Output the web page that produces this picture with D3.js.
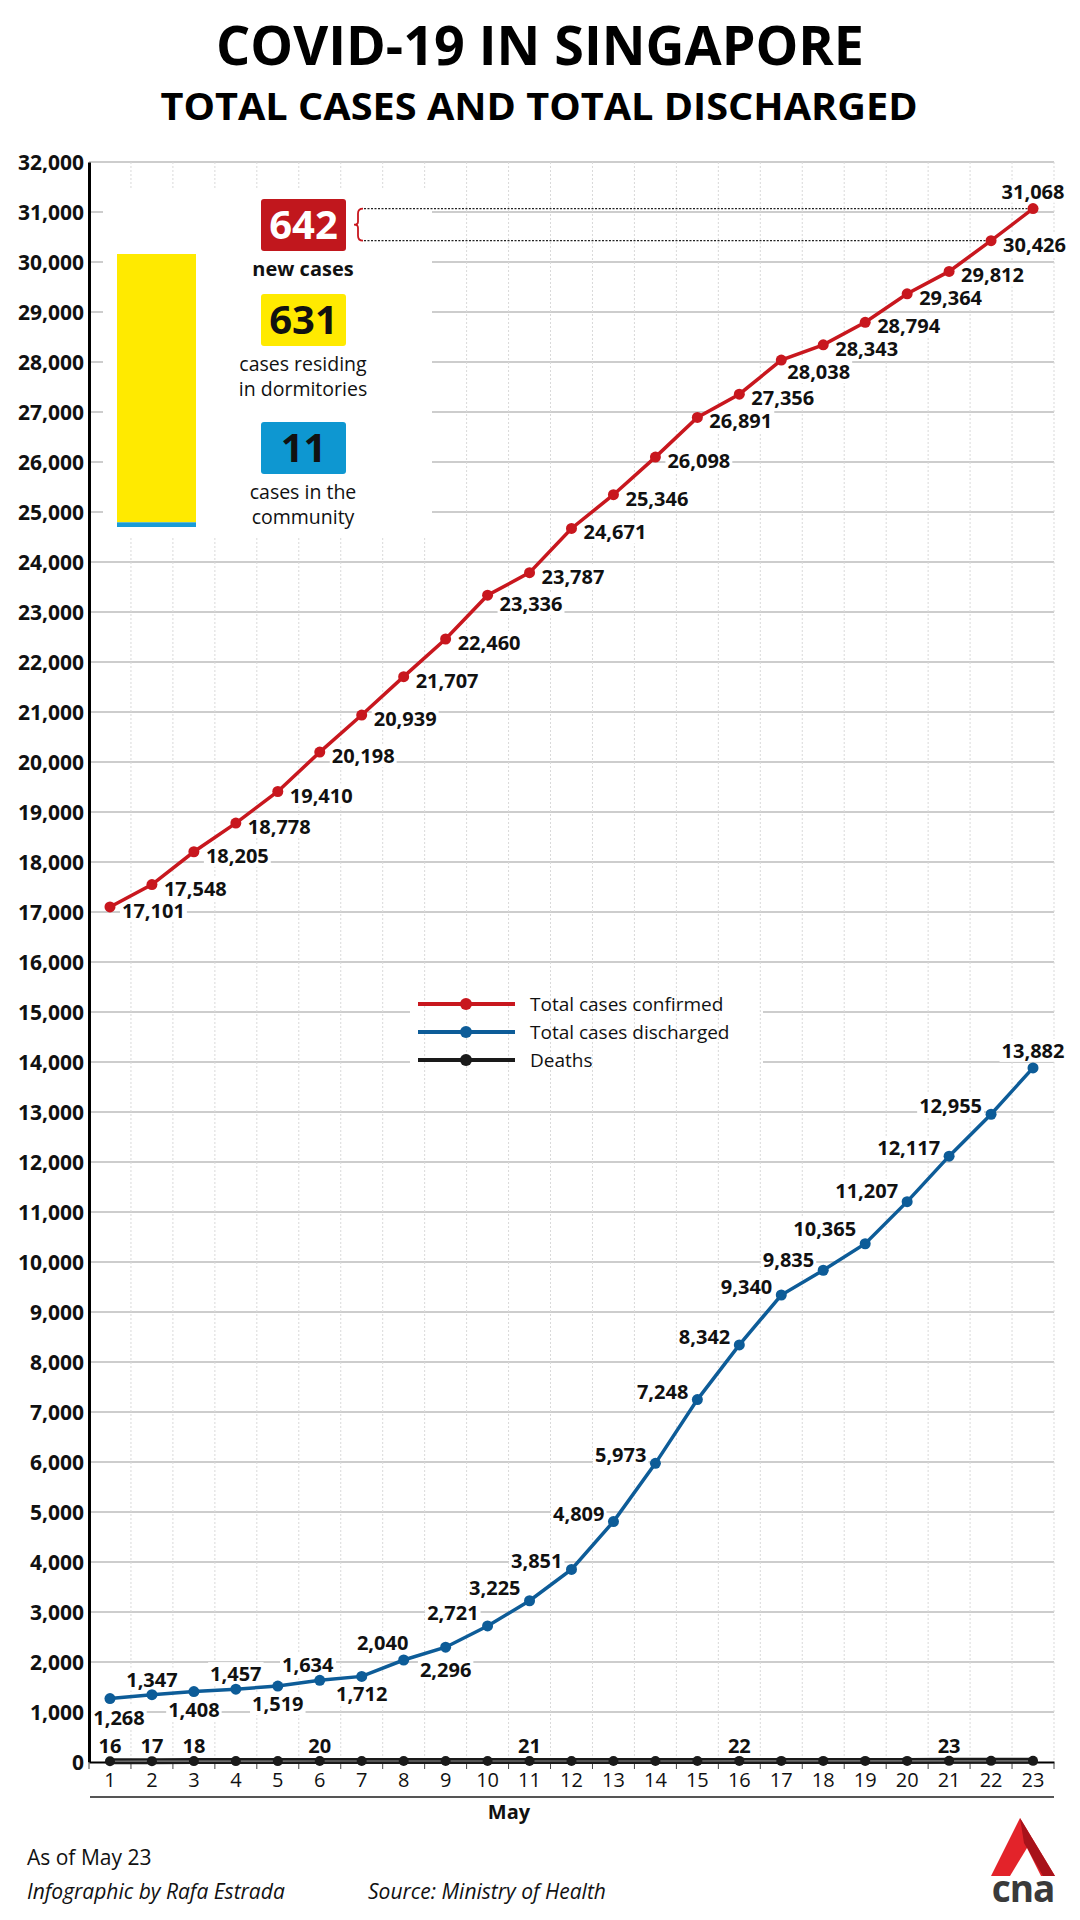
<!DOCTYPE html>
<html>
<head>
<meta charset="utf-8">
<script src="https://cdn.jsdelivr.net/npm/d3@7"></script>
<style>
  body { margin: 0; background: #fff; }
  svg { display: block; font-family: "Open Sans", "Noto Sans", sans-serif; }
</style>
</head>
<body>
<svg id="chart" width="1080" height="1920"></svg>
<script>
// ---- data ----
const days = [1, 2, 3, 4, 5, 6, 7, 8, 9, 10, 11, 12, 13, 14, 15, 16, 17, 18, 19, 20, 21, 22, 23];
const confirmed = [17101, 17548, 18205, 18778, 19410, 20198, 20939, 21707, 22460, 23336, 23787, 24671,
                   25346, 26098, 26891, 27356, 28038, 28343, 28794, 29364, 29812, 30426, 31068];
const discharged = [1268, 1347, 1408, 1457, 1519, 1634, 1712, 2040, 2296, 2721, 3225, 3851,
                    4809, 5973, 7248, 8342, 9340, 9835, 10365, 11207, 12117, 12955, 13882];
const deaths = [16, 17, 18, 18, 18, 20, 20, 20, 20, 20, 21, 21, 21, 21, 21, 22, 22, 22, 22, 22, 23, 23, 23];
const yMax = 32000;
const newCases = 642;
const dormCases = 631;
const communityCases = 11;
const seriesNames = ["Total cases confirmed", "Total cases discharged", "Deaths"];

const RED = "#c8171e", BLUE = "#0d5c98", BLACK = "#1a1a1a";
const fmt = d3.format(",");

const svg = d3.select("#chart");

// scales
const x = d3.scaleBand().domain(days).range([89, 1054]).padding(0);
const cx = d => x(d) + x.bandwidth() / 2;
const y = d3.scaleLinear().domain([0, yMax]).range([1762, 162]);

// ---- title ----
svg.append("text").attr("x", 540).attr("y", 65).attr("text-anchor", "middle")
  .attr("font-size", 54).attr("font-weight", 700).attr("fill", "#000")
  .attr("textLength", 648).attr("lengthAdjust", "spacingAndGlyphs")
  .text("COVID-19 IN SINGAPORE");
svg.append("text").attr("x", 539).attr("y", 120).attr("text-anchor", "middle")
  .attr("font-size", 38).attr("font-weight", 700).attr("fill", "#000")
  .attr("textLength", 757).attr("lengthAdjust", "spacingAndGlyphs")
  .text("TOTAL CASES AND TOTAL DISCHARGED");

// ---- grid ----
const gridH = svg.append("g");
gridH.selectAll("line").data(y.ticks(32).filter(d => d > 0)).join("line")
  .attr("x1", 89).attr("x2", 1054)
  .attr("y1", d => y(d)).attr("y2", d => y(d))
  .attr("stroke", "#bdbdbd").attr("stroke-width", 1.5);

// legend panel hides horizontal lines only
svg.append("rect").attr("x", 410).attr("y", 975).attr("width", 353).attr("height", 110).attr("fill", "#fff");

const bounds = days.slice(1).map(d => x(d)).concat([x.range()[1]]);
svg.append("g").selectAll("line").data(bounds).join("line")
  .attr("x1", d => d).attr("x2", d => d)
  .attr("y1", y(yMax)).attr("y2", y(0))
  .attr("stroke", "#d9d9d9").attr("stroke-width", 1).attr("stroke-dasharray", "2,2");

// inset panel
svg.append("rect").attr("x", 103).attr("y", 190).attr("width", 329).attr("height", 347).attr("fill", "#fff");

const labelBg = svg.append("g");

// ---- axes ----
svg.append("g").attr("transform", "translate(89,0)")
  .call(d3.axisLeft(y).tickValues(y.ticks(32)).tickSize(0).tickPadding(5).tickFormat(fmt))
  .call(g => g.select(".domain").attr("stroke", "#000").attr("stroke-width", 3))
  .call(g => g.selectAll("text").attr("font-size", 21).attr("font-weight", 700)
    .attr("fill", "#111").attr("font-family", "'Open Sans', sans-serif").attr("dy", "0.35em"));

svg.append("g").attr("transform", `translate(0,${y(0)})`)
  .call(d3.axisBottom(x).tickSize(0).tickSizeOuter(0))
  .call(g => g.select(".domain").attr("stroke", "#000").attr("stroke-width", 2))
  .call(g => g.selectAll("text").attr("font-size", 20).attr("fill", "#111")
    .attr("font-family", "'Open Sans', sans-serif").attr("y", 18).attr("dy", "0.35em"));

svg.append("g").selectAll("line").data([x.range()[0]].concat(bounds)).join("line")
  .attr("x1", d => d).attr("x2", d => d)
  .attr("y1", y(0) + 1).attr("y2", y(0) + 7)
  .attr("stroke", "#444").attr("stroke-width", 1);

svg.append("line").attr("x1", 90).attr("x2", 1054).attr("y1", 1797).attr("y2", 1797)
  .attr("stroke", "#555").attr("stroke-width", 2);
svg.append("text").attr("x", 509).attr("y", 1812).attr("dy", "0.35em").attr("text-anchor", "middle")
  .attr("font-size", 20).attr("font-weight", 700).attr("fill", "#111").text("May");

// ---- connector from "642" to the last two confirmed points ----
const n = days.length;
const yA = y(confirmed[n - 1]), yB = y(confirmed[n - 2]);
const yM = (yA + yB) / 2;
svg.append("path")
  .attr("d", `M363,${yA} Q358,${yA} 358,${yA + 5} L358,${yM - 3} Q358,${yM} 354,${yM} Q358,${yM} 358,${yM + 3} L358,${yB - 5} Q358,${yB} 363,${yB}`)
  .attr("fill", "none").attr("stroke", RED).attr("stroke-width", 1.8);
svg.append("line").attr("x1", 364).attr("x2", cx(days[n - 1]) - 5).attr("y1", yA).attr("y2", yA)
  .attr("stroke", "#222").attr("stroke-width", 1.2).attr("stroke-dasharray", "2,1.5");
svg.append("line").attr("x1", 364).attr("x2", cx(days[n - 2]) - 5).attr("y1", yB).attr("y2", yB)
  .attr("stroke", "#222").attr("stroke-width", 1.2).attr("stroke-dasharray", "2,1.5");

// ---- series ----
const line = vals => d3.line().x((v, i) => cx(days[i])).y(v => y(v))(vals);

svg.append("path").attr("d", line(deaths)).attr("fill", "none").attr("stroke", BLACK).attr("stroke-width", 6);
svg.append("path").attr("d", line(deaths)).attr("fill", "none").attr("stroke", "#6a6a6a").attr("stroke-width", 1.6);
svg.append("g").selectAll("circle").data(deaths).join("circle")
  .attr("cx", (v, i) => cx(days[i])).attr("cy", v => y(v)).attr("r", 5).attr("fill", BLACK);

svg.append("path").attr("d", line(discharged)).attr("fill", "none").attr("stroke", BLUE).attr("stroke-width", 3.5);
svg.append("g").selectAll("circle").data(discharged).join("circle")
  .attr("cx", (v, i) => cx(days[i])).attr("cy", v => y(v)).attr("r", 5.5).attr("fill", BLUE);

svg.append("path").attr("d", line(confirmed)).attr("fill", "none").attr("stroke", RED).attr("stroke-width", 3.5);
svg.append("g").selectAll("circle").data(confirmed).join("circle")
  .attr("cx", (v, i) => cx(days[i])).attr("cy", v => y(v)).attr("r", 5.5).attr("fill", RED);

// ---- value labels ----
const redNudge = { 9: { dy: 9 }, 16: { dx: 6, dy: 12 } };
function redPlace(i) {
  if (i === n - 1) return { anchor: "middle", dx: 0, dy: -17 };
  return Object.assign({ anchor: "start", dx: 12, dy: 4 }, redNudge[i] || {});
}
const blueNudge = { 0: { dx: 9, dy: 19 }, 5: { dx: -12 }, 7: { dx: -21, dy: -17 }, 8: { dy: 23 },
                    9: { dy: -13 }, 10: { dy: -13 }, 17: { dy: -10 }, 18: { dy: -15 }, 19: { dy: -11 } };
function bluePlace(i) {
  let p;
  if (i === n - 1) p = { anchor: "middle", dx: 0, dy: -17 };
  else if (i >= 9) p = { anchor: "end", dx: -9, dy: -8 };
  else p = { anchor: "middle", dx: 0, dy: i % 2 === 0 ? 18 : -15 };
  return Object.assign(p, blueNudge[i] || {});
}

const labels = svg.append("g").attr("font-size", 20).attr("font-weight", 700).attr("fill", "#111");
function addLabels(vals, place, cls) {
  labels.selectAll("text." + cls).data(vals).join("text").attr("class", cls)
    .each(function (v, i) {
      const p = place(i);
      d3.select(this).attr("x", cx(days[i]) + p.dx).attr("y", y(v) + p.dy)
        .attr("dy", "0.35em").attr("text-anchor", p.anchor).text(fmt(v));
    });
}
addLabels(confirmed, redPlace, "red");
addLabels(discharged, bluePlace, "blue");

labels.selectAll("text.death").data(deaths.map((v, i) => ({ v, i })).filter(d => d.i === 0 || d.v !== deaths[d.i - 1]))
  .join("text").attr("class", "death")
  .attr("x", d => cx(days[d.i])).attr("y", d => y(d.v) - 15).attr("dy", "0.35em")
  .attr("text-anchor", "middle").text(d => d.v);

// white boxes behind the value labels (hide grid lines only)
labels.selectAll("text.red, text.blue").each(function () {
  const b = this.getBBox();
  labelBg.append("rect").attr("x", b.x - 2).attr("y", b.y + 2).attr("width", b.width + 4)
    .attr("height", b.height - 4).attr("fill", "#fff");
});

// ---- legend ----
const legendColors = [RED, BLUE, BLACK];
const leg = svg.append("g").selectAll("g").data(seriesNames).join("g")
  .attr("transform", (d, i) => `translate(0,${1004 + i * 28})`);
leg.append("line").attr("x1", 418).attr("x2", 515).attr("stroke", (d, i) => legendColors[i]).attr("stroke-width", 4);
leg.append("circle").attr("cx", 466).attr("r", 6).attr("fill", (d, i) => legendColors[i]);
leg.append("text").attr("x", 530).attr("dy", "0.35em").attr("font-size", 19).attr("fill", "#111").text(d => d);

// ---- inset: today's new cases ----
const barY = d3.scaleLinear().domain([0, newCases]).range([527, 254]);
svg.append("rect").attr("x", 117).attr("width", 79)
  .attr("y", barY(newCases)).attr("height", barY(communityCases) - barY(newCases)).attr("fill", "#ffea00");
svg.append("rect").attr("x", 117).attr("width", 79)
  .attr("y", barY(communityCases)).attr("height", barY(0) - barY(communityCases)).attr("fill", "#1a9bd7");

const boxes = [
  { value: newCases, fill: "#c1171d", color: "#fff", y: 199, lines: ["new cases"], bold: true },
  { value: dormCases, fill: "#ffea00", color: "#111", y: 294, lines: ["cases residing", "in dormitories"], bold: false },
  { value: communityCases, fill: "#0e97d1", color: "#111", y: 422, lines: ["cases in the", "community"], bold: false }
];
const bx = svg.append("g").selectAll("g").data(boxes).join("g").attr("transform", d => `translate(0,${d.y})`);
bx.append("rect").attr("x", 261).attr("width", 85).attr("height", 52).attr("rx", 3).attr("fill", d => d.fill);
bx.append("text").attr("x", 303.5).attr("y", 26).attr("dy", "0.36em").attr("text-anchor", "middle")
  .attr("font-size", 40).attr("font-weight", 700).attr("fill", d => d.color).text(d => d.value);
bx.each(function (d) {
  d3.select(this).selectAll("text.cap").data(d.lines).join("text").attr("class", "cap")
    .attr("x", 303).attr("y", (t, i) => 70 + i * 25).attr("dy", "0.35em").attr("text-anchor", "middle")
    .attr("font-size", d.bold ? 20 : 19.5).attr("font-weight", d.bold ? 700 : 400).attr("fill", "#111")
    .text(t => t);
});

// ---- footer ----
svg.append("text").attr("x", 27).attr("y", 1865).attr("font-size", 21).attr("fill", "#111").text("As of May 23");
svg.append("text").attr("x", 27).attr("y", 1899).attr("font-size", 21).attr("font-style", "italic")
  .attr("fill", "#111").text("Infographic by Rafa Estrada");
svg.append("text").attr("x", 368).attr("y", 1899).attr("font-size", 21).attr("font-style", "italic")
  .attr("fill", "#111").text("Source: Ministry of Health");

// cna logo
const logo = svg.append("g");
logo.append("path").attr("d", "M1020,1818 L1055,1876 L991,1876 Z").attr("fill", "#e3232a");
logo.append("path").attr("d", "M1020,1818 L1055,1876 L1043,1876 L1024,1843 Z").attr("fill", "#a8121a");
logo.append("path").attr("d", "M1010,1876 L1027,1848 L1041,1876 Z").attr("fill", "#fff");
logo.append("path").attr("d", "M991,1876 L1000,1862 L1046,1862 L1055,1876 Z").attr("fill", "#c41a21").attr("opacity", 0.0);
logo.append("text").attr("x", 1023).attr("y", 1902).attr("text-anchor", "middle")
  .attr("font-size", 37).attr("font-weight", 700).attr("letter-spacing", -1).attr("fill", "#3a3a3a").text("cna");
</script>
</body>
</html>
